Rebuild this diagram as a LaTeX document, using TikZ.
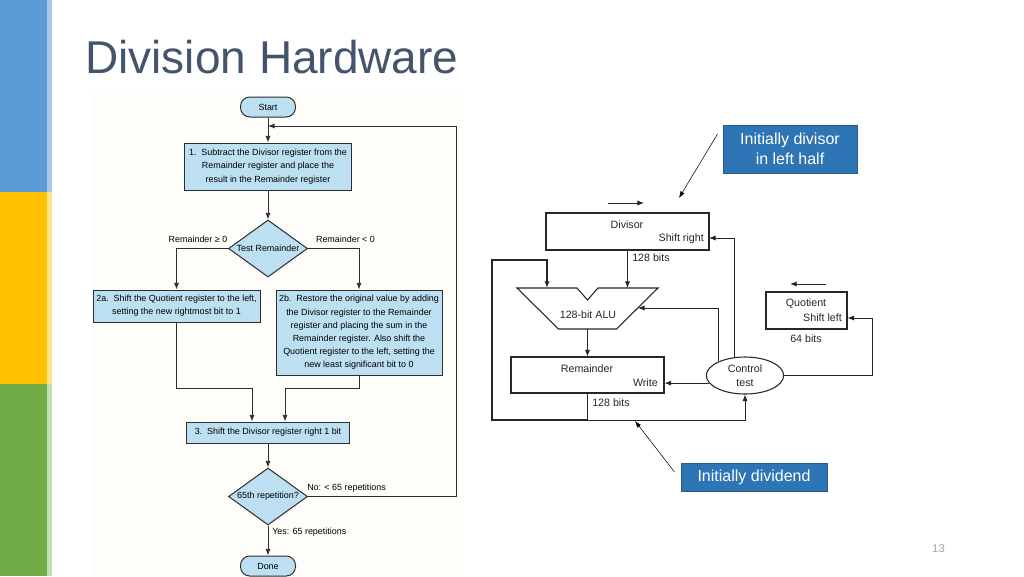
\documentclass[tikz,border=0pt]{standalone}
\usepackage{fontspec}
\setmainfont{Liberation Sans}
\usetikzlibrary{shapes.geometric,arrows.meta}
\definecolor{titlecol}{HTML}{44546A}
\definecolor{flowfill}{RGB}{188,224,242}
\definecolor{flowline}{RGB}{45,45,45}
\definecolor{flowbg}{RGB}{254,253,249}
\definecolor{notefill}{HTML}{2E75B6}
\definecolor{noteline}{HTML}{2A5A8C}
\definecolor{barblue}{HTML}{5B9BD5}
\definecolor{baryellow}{HTML}{FFC000}
\definecolor{bargreen}{HTML}{70AD47}
\definecolor{pagegray}{HTML}{A6A6A6}
\tikzset{
  flowbox/.style={draw=flowline, fill=flowfill, line width=0.75pt, inner sep=0pt, align=center, font=\fontsize{6.7}{9.9}\selectfont},
  flowdiam/.style={flowbox, diamond, aspect=1.39, minimum width=59.25pt, minimum height=42.75pt},
  flowend/.style={flowbox, rounded corners=7pt, minimum width=41.25pt, minimum height=15pt},
  flowarr/.style={-{Latex[length=5pt,width=3.8pt]}, line width=0.65pt, draw=flowline},
  flowlbl/.style={font=\fontsize{6.7}{8}\selectfont, inner sep=0pt},
  hwbox/.style={draw=black!85, line width=0.8pt, minimum height=27.75pt},
  hwlbl/.style={font=\fontsize{8}{10.5}\selectfont, inner sep=0pt, align=center, text=black!85},
  hwarr/.style={-{Latex[length=5pt,width=4pt]}, line width=0.75pt, draw=black!85},
  notebox/.style={draw=noteline, fill=notefill, text=white, line width=0.75pt, align=center, font=\fontsize{12}{15}\selectfont, inner sep=0pt},
  notearr/.style={-{Latex[length=5pt,width=3.5pt]}, line width=0.4pt}
}
\begin{document}
\begin{tikzpicture}[x=0.75pt,y=-0.75pt]
\useasboundingbox (0,0) rectangle (1024,576);
\fill[white] (0,0) rectangle (1024,576);
\fill[barblue] (0,0) rectangle (47,192);
\fill[barblue!55] (47,0) rectangle (52,192);
\fill[baryellow] (0,192) rectangle (47,384);
\fill[baryellow!45] (47,192) rectangle (52,384);
\fill[bargreen] (0,384) rectangle (47,576);
\fill[bargreen!40] (47,384) rectangle (52,576);
\node[anchor=base west, inner sep=0pt, font=\fontsize{34.5}{40}\selectfont, text=titlecol] (title) at (85,73) {Division Hardware};
\node[font=\fontsize{8.5}{10}\selectfont, text=pagegray] (pnum) at (938.5,549) {13};

\fill[flowbg] (93,93) rectangle (462,576);
\node[flowend] (start) at (268,107) {Start};
\node[flowbox, minimum width=125.25pt, minimum height=35.25pt] (s1) at (268,166.5) {1.~~Subtract the Divisor register from the\\Remainder register and place the\\result in the Remainder register};
\node[flowdiam] (test) at (268,248.5) {Test Remainder};
\node[flowbox, minimum width=125.25pt, minimum height=24pt] (s2a) at (176.5,306) {2a.~~Shift the Quotient register to the left,\\setting the new rightmost bit to 1};
\node[flowbox, minimum width=124.5pt, minimum height=63.75pt] (s2b) at (359,332.5) {2b.~~Restore the original value by adding\\the Divisor register to the Remainder\\register and placing the sum in the\\Remainder register. Also shift the\\Quotient register to the left, setting the\\new least significant bit to 0};
\node[flowbox, minimum width=122.25pt, minimum height=15.75pt] (s3) at (268,432.5) {3.~~Shift the Divisor register right 1 bit};
\node[flowdiam] (rep) at (268,496.5) {65th repetition?};
\node[flowend] (done) at (268,566) {Done};
\node[flowlbl] (ge) at (198,239) {Remainder ≥ 0};
\node[flowlbl] (lt) at (345.5,239) {Remainder < 0};
\node[flowlbl, anchor=west] (no) at (307,488) {No: < 65 repetitions};
\node[flowlbl, anchor=west] (yes) at (272,532) {Yes: 65 repetitions};
\coordinate (loopx) at (456,0);
\coordinate (loopin) at (268,126);
\coordinate (ma) at (252,388);
\coordinate (mb) at (285,388);
\draw[flowarr] (start) -- (s1);
\draw[flowarr] (s1) -- (test);
\draw[flowarr] (test.west) -| (s2a.north);
\draw[flowarr] (test.east) -| (s2b.north);
\draw[flowarr] (s2a.south) |- (ma) -- (ma |- s3.north);
\draw[flowarr] (s2b.south) |- (mb) -- (mb |- s3.north);
\draw[flowarr] (s3) -- (rep);
\draw[flowarr] (rep) -- (done);
\draw[flowarr] (rep.east) -- (rep.east -| loopx) |- (loopin);

\node[hwbox, minimum width=122.25pt] (divisor) at (627.5,231.5) {};
\node[hwlbl] (divname) at (627,225) {Divisor};
\node[hwlbl, anchor=east] (divshift) at (704,239) {Shift right};
\node[hwlbl, anchor=west] (divbits) at (632,258) {128 bits};
\draw[line width=0.8pt, draw=black!85] (517,288) -- (577,288) -- (587.5,300) -- (598,288) -- (658,288) -- (616.5,329) -- (558.5,329) -- cycle;
\node[hwlbl] (alu) at (588,315) {128-bit ALU};
\node[hwbox, minimum width=114.75pt, minimum height=27pt] (rem) at (587.5,375) {};
\node[hwlbl] (remname) at (587,369) {Remainder};
\node[hwlbl, anchor=east] (remwrite) at (658,383) {Write};
\node[hwlbl, anchor=west] (rembits) at (592,403) {128 bits};
\node[hwlbl, draw=black!85, line width=0.8pt, ellipse, minimum width=58pt, minimum height=27.75pt] (ctrl) at (745,375.5) {Control\\test};
\node[hwbox, minimum width=60.75pt] (quot) at (806.5,310.5) {};
\node[hwlbl] (quotname) at (806,304) {Quotient};
\node[hwlbl, anchor=east] (quotshift) at (842,318) {Shift left};
\node[hwlbl] (quotbits) at (806,339) {64 bits};
\coordinate (aluinl) at (547,288);
\coordinate (aluinr) at (627.5,288);
\coordinate (aluout) at (587.5,329);
\coordinate (aluctl) at (638,308);
\coordinate (loopbot) at (587.5,420);
\coordinate (divin) at (709,238);
\coordinate (qturn) at (872,318);
\coordinate (dira) at (608,203);
\coordinate (dirb) at (644,203);
\coordinate (qdira) at (826,284);
\coordinate (qdirb) at (790,284);
\draw[hwarr] (divisor.south) -- (aluinr);
\draw[hwarr] (aluout) -- (rem.north);
\draw[line width=0.75pt, draw=black!85] (rem.south) -- (loopbot);
\draw[hwarr, line width=1.6pt] (loopbot) -- (492,420) -- (492,260) -- (547,260) -- (aluinl);
\draw[hwarr] (loopbot) -| (ctrl.south);
\draw[hwarr] (ctrl.152) |- (aluctl);
\draw[hwarr] (ctrl.119) |- (divin);
\draw[hwarr] (ctrl.192) -- (ctrl.192 -| rem.east);
\draw[hwarr] (ctrl.east) -| (qturn) -- (qturn -| quot.east);
\draw[hwarr] (dira) -- (dirb);
\draw[hwarr] (qdira) -- (qdirb);

\node[notebox, minimum width=100.5pt, minimum height=36pt] (note1) at (790,149) {Initially divisor\\in left half};
\node[notebox, minimum width=109.5pt, minimum height=21pt] (note2) at (754,477) {Initially dividend};
\coordinate (divptr) at (679,198);
\coordinate (remptr) at (635,421);
\draw[notearr] ([shift={(-5,-15)}]note1.west) -- (divptr);
\draw[notearr] ([shift={(-6,-5)}]note2.west) -- (remptr);
\end{tikzpicture}
\end{document}
